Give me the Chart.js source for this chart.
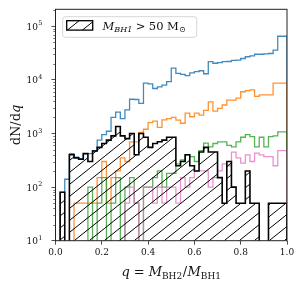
<!DOCTYPE html>
<html>
<head>
<meta charset="utf-8">
<script src="https://cdn.jsdelivr.net/npm/chart.js@4.4.1/dist/chart.umd.min.js"></script>
<style>
  html, body { margin: 0; padding: 0; background: #fff; }
  #wrap { width: 305px; height: 290px; }
</style>
</head>
<body>
<div id="wrap"><canvas id="chart" width="305" height="290"></canvas></div>
<script>
// dN/dq histograms, 50 bins of width 0.02 in q
const binWidth = 0.02;

const histBlue = [0, 0, 80, 140, 420, 360, 340, 420, 420, 480,
  750, 950, 1100, 2000, 2500, 1900, 2750, 4350, 4300, 3650,
  8700, 8400, 6900, 7400, 8000, 9300, 16500, 13200, 12600, 12000,
  13500, 14200, 14800, 13000, 21800, 20400, 21000, 21800, 22000, 23000,
  23400, 25000, 27000, 28000, 30000, 30000, 30500, 31000, 36000, 65000];

const histOrange = [0, 0, 0, 0, 0, 50, 50, 50, 50, 50,
  150, 300, 50, 150, 200, 350, 300, 700, 700, 1050,
  1200, 1600, 1700, 1300, 1800, 1900, 2000, 1780, 1550, 2400,
  2050, 2400, 2200, 2700, 3900, 2600, 2950, 3400, 4200, 4200,
  4550, 6000, 6300, 6500, 4900, 5250, 5250, 5250, 8700, 8700];

const histGreen = [0, 0, 0, 0, 0, 0, 0, 0, 100, 0,
  50, 150, 0, 50, 150, 0, 100, 150, 50, 0,
  100, 100, 150, 200, 100, 180, 180, 270, 320, 400,
  370, 300, 480, 660, 560, 650, 700, 700, 600, 560,
  700, 850, 950, 870, 560, 850, 560, 870, 900, 1070];

const histPink = [0, 0, 0, 0, 0, 0, 0, 0, 0, 0,
  0, 0, 0, 0, 0, 0, 50, 100, 50, 0,
  100, 100, 50, 100, 50, 100, 100, 50, 150, 100,
  150, 200, 200, 200, 100, 150, 200, 270, 250, 450,
  350, 280, 400, 300, 430, 400, 370, 370, 250, 480];

// M_BH1 > 50 Msun subset (hatched)
const histHeavy = [0, 0, 80, 0, 400, 350, 330, 420, 300, 470,
  550, 650, 750, 900, 1350, 900, 800, 1000, 400, 1000,
  850, 550, 650, 700, 750, 850, 850, 250, 300, 400,
  250, 200, 450, 550, 450, 450, 150, 50, 300, 100,
  50, 50, 200, 50, 50, 0, 0, 50, 50, 50];

const xTicks = [0, 0.2, 0.4, 0.6, 0.8, 1.0];
const yMajor = [10, 100, 1000, 10000, 100000];
const yMinor = [20, 30, 40, 50, 60, 70, 80, 90, 200, 300, 400, 500, 600, 700, 800, 900,
  2000, 3000, 4000, 5000, 6000, 7000, 8000, 9000, 20000, 30000, 40000, 50000, 60000,
  70000, 80000, 90000, 200000];

const SERIF = '"DejaVu Serif", "Liberation Serif", serif';
const FLOOR = 1; // empty bins: drawn below the axis, clipped like matplotlib

function stepData(counts) {
  const pts = [{ x: 0, y: FLOOR }];
  counts.forEach((v, i) => pts.push({ x: +(i * binWidth).toFixed(2), y: v > 0 ? v : FLOOR }));
  const last = counts[counts.length - 1];
  pts.push({ x: 1, y: last > 0 ? last : FLOOR });
  pts.push({ x: 1, y: FLOOR });
  return pts;
}

const canvas = document.getElementById('chart');
const ctx0 = canvas.getContext('2d');

function makeHatch() {
  const t = document.createElement('canvas');
  t.width = 15; t.height = 12;
  const g = t.getContext('2d');
  g.strokeStyle = '#000';
  g.lineWidth = 1;
  for (const dx of [-15, 0, 15]) {
    g.beginPath();
    g.moveTo(dx, 12);
    g.lineTo(dx + 15, 0);
    g.stroke();
  }
  return ctx0.createPattern(t, 'repeat');
}
const hatch = makeHatch();

function drawRuns(ctx, x, y, runs) {
  for (const r of runs) {
    x += r.gap || 0;
    ctx.font = r.font;
    ctx.fillText(r.text, x, y + (r.dy || 0));
    x += ctx.measureText(r.text).width;
  }
  return x;
}
function runsWidth(ctx, runs) {
  let w = 0;
  for (const r of runs) {
    ctx.font = r.font;
    w += (r.gap || 0) + ctx.measureText(r.text).width;
  }
  return w;
}

const decor = {
  id: 'decor',
  afterDraw(chart) {
    const { ctx, chartArea: a } = chart;
    const y = chart.scales.y;
    ctx.save();
    ctx.fillStyle = '#111';
    ctx.strokeStyle = '#222';

    // minor ticks of the log axis
    ctx.lineWidth = 0.6;
    yMinor.forEach(v => {
      const py = Math.round(y.getPixelForValue(v)) + 0.5;
      ctx.beginPath();
      ctx.moveTo(a.left - 2.3, py);
      ctx.lineTo(a.left, py);
      ctx.stroke();
    });

    // 10^n labels
    ctx.textAlign = 'left';
    ctx.textBaseline = 'alphabetic';
    yMajor.forEach(v => {
      const n = String(Math.round(Math.log10(v)));
      const py = y.getPixelForValue(v);
      ctx.font = '6.5px ' + SERIF;
      const ew = ctx.measureText(n).width;
      ctx.font = '9px ' + SERIF;
      const bw = ctx.measureText('10').width;
      const right = a.left - 13.5;
      ctx.fillText('10', right - ew - bw, py + 3.6);
      ctx.font = '6.5px ' + SERIF;
      ctx.fillText(n, right - ew + 0.3, py - 0.8);
    });

    // frame
    ctx.lineWidth = 1;
    ctx.strokeStyle = '#222';
    ctx.strokeRect(a.left, a.top, a.right - a.left, a.bottom - a.top);

    // x title: q = M_BH2 / M_BH1
    const xRuns = [
      { text: 'q', font: 'italic 13px ' + SERIF },
      { text: '=', font: '13px ' + SERIF, gap: 4 },
      { text: 'M', font: 'italic 13px ' + SERIF, gap: 4 },
      { text: 'BH2', font: '9px ' + SERIF, dy: 2.8 },
      { text: '/', font: '13px ' + SERIF, gap: 0.5 },
      { text: 'M', font: 'italic 13px ' + SERIF, gap: 0.5 },
      { text: 'BH1', font: '9px ' + SERIF, dy: 2.8 }
    ];
    const xw = runsWidth(ctx, xRuns);
    drawRuns(ctx, (a.left + a.right) / 2 - xw / 2, 276, xRuns);

    // y title: dN/dq
    const yRuns = [
      { text: 'dN/d', font: '13px ' + SERIF },
      { text: 'q', font: 'italic 13px ' + SERIF }
    ];
    const yw = runsWidth(ctx, yRuns);
    ctx.save();
    ctx.translate(19.5, (a.top + a.bottom) / 2);
    ctx.rotate(-Math.PI / 2);
    drawRuns(ctx, -yw / 2, 0, yRuns);
    ctx.restore();

    // legend
    ctx.beginPath();
    ctx.roundRect(62.7, 16.7, 134, 20.6, 2.5);
    ctx.fillStyle = 'rgba(255,255,255,0.8)';
    ctx.fill();
    ctx.strokeStyle = '#cccccc';
    ctx.lineWidth = 0.8;
    ctx.stroke();
    ctx.fillStyle = hatch;
    ctx.fillRect(66.7, 20.7, 26, 9.4);
    ctx.strokeStyle = '#000';
    ctx.lineWidth = 1.3;
    ctx.strokeRect(66.7, 20.7, 26, 9.4);
    ctx.fillStyle = '#111';
    drawRuns(ctx, 102.5, 29.6, [
      { text: 'M', font: 'italic 11.5px ' + SERIF },
      { text: 'BH1', font: 'italic 8px ' + SERIF, dy: 2.8 },
      { text: '>', font: '11.5px ' + SERIF, gap: 3.5 },
      { text: '50', font: '11.5px ' + SERIF, gap: 3.5 },
      { text: 'M', font: '11.5px ' + SERIF, gap: 3.5 },
      { text: '\u2299', font: '8px ' + SERIF, dy: 2.8, gap: 0.3 }
    ]);
    ctx.restore();
  }
};

const lineBase = { stepped: 'after', fill: false, pointRadius: 0, tension: 0 };

new Chart(canvas, {
  type: 'line',
  data: {
    datasets: [
      Object.assign({}, lineBase, { data: stepData(histHeavy), borderColor: '#000', borderWidth: 1.6,
        backgroundColor: hatch, fill: 'start', order: 0 }),
      Object.assign({}, lineBase, { data: stepData(histPink), borderColor: 'rgba(227,119,194,0.8)', borderWidth: 1.3, order: 1 }),
      Object.assign({}, lineBase, { data: stepData(histGreen), borderColor: 'rgba(44,160,44,0.8)', borderWidth: 1.3, order: 2 }),
      Object.assign({}, lineBase, { data: stepData(histOrange), borderColor: 'rgba(255,127,14,0.85)', borderWidth: 1.3, order: 3 }),
      Object.assign({}, lineBase, { data: stepData(histBlue), borderColor: 'rgba(31,119,180,0.85)', borderWidth: 1.3, order: 4 })
    ]
  },
  options: {
    responsive: false,
    animation: false,
    layout: { padding: { left: 0, right: 18, top: 9.3, bottom: 0 } },
    plugins: { legend: { display: false }, tooltip: { enabled: false } },
    scales: {
      x: {
        type: 'linear', min: 0, max: 1,
        afterBuildTicks: s => { s.ticks = xTicks.map(v => ({ value: v })); },
        afterFit: s => { s.height = 290 - 240.7; },
        ticks: { callback: v => v.toFixed(1), autoSkip: false, maxRotation: 0, padding: 3,
          color: '#111', font: { family: SERIF, size: 9 } },
        grid: { drawOnChartArea: false, tickLength: 4, tickWidth: 0.8, tickColor: '#222' },
        border: { display: false }
      },
      y: {
        type: 'logarithmic', min: 10, max: 207000,
        afterBuildTicks: s => { s.ticks = yMajor.map(v => ({ value: v })); },
        afterFit: s => { s.width = 55.5; },
        ticks: { display: false, autoSkip: false },
        grid: { drawOnChartArea: false, tickLength: 4, tickWidth: 0.8, tickColor: '#222' },
        border: { display: false }
      }
    }
  },
  plugins: [decor]
});
</script>
</body>
</html>
